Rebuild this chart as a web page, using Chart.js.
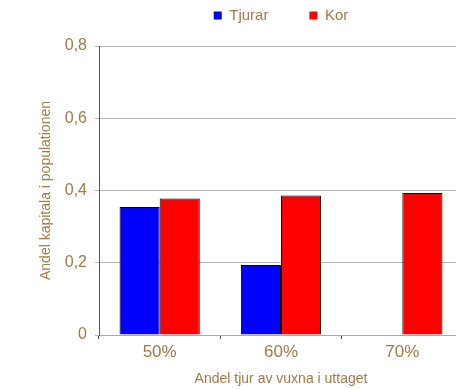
<!DOCTYPE html>
<html>
<head>
<meta charset="utf-8">
<script src="https://cdn.jsdelivr.net/npm/chart.js@4"></script>
<style>
  html, body { margin: 0; padding: 0; background: #ffffff; }
  #wrap { width: 456px; height: 389px; }
</style>
</head>
<body>
<div id="wrap"><canvas id="c" width="456" height="389"></canvas></div>
<script>
// Andel kapitala per uttagsandel tjur
const categories = ['50%', '60%', '70%'];
const tjurar = [0.354, 0.194, null];
const kor = [0.378, 0.386, 0.393];
const yTicks = [0, 0.2, 0.4, 0.6, 0.8];

const textColor = '#9e7b47';
const fontFamily = '"Liberation Sans", Arial, sans-serif';

// The plot runs a few pixels past the right canvas edge; the legend row
// is centred over the plot and lifted to the top edge.
const layoutTweaks = {
  id: 'layoutTweaks',
  afterLayout(chart) {
    const extra = 7;
    const area = chart.chartArea;
    area.right += extra;
    area.width += extra;
    const xs = chart.scales.x;
    xs.right += extra;
    xs.width += extra;
    xs.configure();

    const lg = chart.legend;
    if (!lg) return;
    lg.left = area.left;
    lg.right = area.right;
    lg.width = lg.right - lg.left;
    lg.top = -33;
  }
};

new Chart(document.getElementById('c'), {
  type: 'bar',
  data: {
    labels: categories,
    datasets: [
      {
        label: 'Tjurar',
        data: tjurar,
        backgroundColor: '#0000ff',
        borderColor: '#000000',
        borderWidth: 1,
        categoryPercentage: 0.661,
        barPercentage: 1
      },
      {
        label: 'Kor',
        data: kor,
        backgroundColor: '#ff0000',
        borderColor: '#000000',
        borderWidth: 1,
        categoryPercentage: 0.661,
        barPercentage: 1
      }
    ]
  },
  options: {
    responsive: false,
    animation: false,
    devicePixelRatio: 1,
    layout: { padding: { left: 30, right: 0, top: 0, bottom: 0 } },
    plugins: {
      tooltip: { enabled: false },
      legend: {
        position: 'top',
        align: 'center',
        maxHeight: 46,
        labels: {
          boxWidth: 8,
          boxHeight: 8,
          padding: 41,
          color: textColor,
          font: { family: fontFamily, size: 15 },
          generateLabels(chart) {
            return chart.data.datasets.map((ds, i) => ({
              text: ds.label,
              fillStyle: ds.backgroundColor,
              strokeStyle: ds.backgroundColor,
              lineWidth: 0,
              fontColor: textColor,
              hidden: false,
              datasetIndex: i
            }));
          }
        }
      }
    },
    scales: {
      x: {
        offset: true,
        grid: {
          offset: true,
          drawOnChartArea: false,
          drawTicks: true,
          tickLength: 4,
          color: '#555555'
        },
        border: { display: true, color: '#aaaaaa', width: 1 },
        ticks: {
          color: textColor,
          padding: 3,
          font: { family: fontFamily, size: 17 }
        },
        title: {
          display: true,
          text: 'Andel tjur av vuxna i uttaget',
          color: textColor,
          font: { family: fontFamily, size: 14 },
          padding: { top: 2, bottom: 1 }
        },
        afterFit(scale) { scale.height = 54; }
      },
      y: {
        min: 0,
        max: 0.8,
        afterBuildTicks(scale) {
          scale.ticks = yTicks.map(v => ({ value: v }));
        },
        grid: {
          color: '#b4b4b4',
          lineWidth: 1,
          drawTicks: true,
          tickLength: 4
        },
        border: { display: true, color: '#555555', width: 1 },
        ticks: {
          color: textColor,
          padding: 8,
          font: { family: fontFamily, size: 16 },
          callback(v) {
            return v === 0 ? '0' : Number(v).toFixed(1).replace('.', ',');
          }
        },
        title: {
          display: true,
          text: 'Andel kapitala i populationen',
          color: textColor,
          font: { family: fontFamily, size: 14 },
          padding: { top: 8, bottom: 4 }
        },
        afterFit(scale) { scale.width = 69; }
      }
    }
  },
  plugins: [layoutTweaks]
});
</script>
</body>
</html>
